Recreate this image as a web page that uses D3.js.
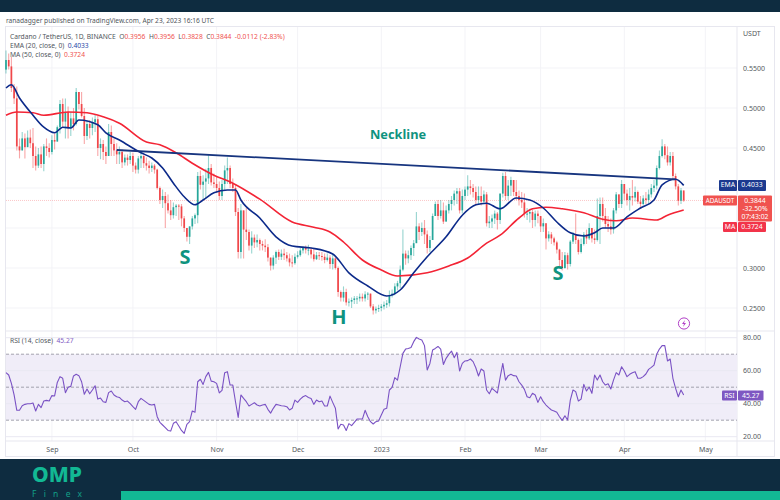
<!DOCTYPE html>
<html><head><meta charset="utf-8">
<script src="https://cdnjs.cloudflare.com/ajax/libs/d3/7.8.5/d3.min.js"></script>
<style>html,body{margin:0;padding:0;background:#fff}svg{display:block}text{font-family:"Noto Sans",sans-serif}</style>
</head><body><svg id="c" width="780" height="500"></svg>
<script>
const closes=[
.560,.552,.525,.512,.452,.447,.462,.451,.463,.456,
.440,.428,.442,.430,.452,.450,.445,.460,.458,.476,
.505,.483,.495,.475,.487,.480,.520,.505,.490,.465,
.480,.475,.482,.486,.450,.455,.445,.440,.470,.455,
.447,.442,.445,.432,.438,.435,.440,.428,.423,.437,
.440,.431,.428,.425,.428,.423,.400,.385,.390,.381,
.372,.366,.376,.378,.377,.362,.350,.339,.352,.362,
.366,.415,.404,.408,.412,.425,.407,.405,.400,.390,
.405,.422,.425,.405,.400,.370,.320,.372,.348,.345,
.328,.338,.332,.335,.330,.328,.326,.313,.303,.313,
.320,.314,.318,.316,.312,.307,.306,.314,.316,.322,
.325,.323,.323,.317,.311,.316,.315,.314,.310,.313,
.305,.312,.300,.270,.263,.270,.257,.258,.260,.262,
.262,.264,.262,.267,.268,.252,.247,.249,.250,.252,
.254,.256,.266,.268,.277,.281,.298,.318,.312,.316,
.325,.331,.352,.345,.350,.342,.325,.335,.365,.380,
.365,.372,.358,.372,.380,.385,.393,.396,.372,.390,
.398,.402,.400,.395,.385,.390,.383,.392,.356,.358,
.362,.368,.360,.393,.415,.390,.403,.410,.395,.390,
.385,.382,.368,.368,.370,.360,.368,.365,.352,.356,
.337,.342,.337,.332,.323,.310,.300,.316,.305,.333,
.342,.335,.320,.330,.342,.337,.350,.337,.335,.365,
.380,.365,.355,.352,.348,.372,.392,.380,.405,.393,
.385,.390,.388,.395,.383,.380,.387,.385,.392,.400,
.403,.425,.440,.452,.441,.432,.440,.415,.402,.384,
.397,.3844];
const highs=[
.572,.568,.564,.530,.527,.462,.470,.468,.472,.473,
.475,.452,.450,.452,.455,.462,.456,.466,.468,.478,
.510,.512,.512,.502,.495,.500,.525,.520,.520,.500,
.484,.485,.488,.492,.490,.462,.460,.452,.480,.478,
.462,.456,.452,.448,.442,.442,.445,.444,.432,.440,
.444,.441,.438,.434,.432,.430,.424,.402,.398,.395,
.392,.385,.382,.380,.380,.380,.365,.350,.352,.365,
.368,.420,.422,.416,.424,.441,.430,.418,.415,.408,
.410,.428,.438,.428,.412,.405,.375,.380,.372,.375,
.348,.346,.342,.342,.337,.334,.336,.330,.313,.316,
.322,.323,.323,.324,.320,.318,.316,.318,.321,.325,
.327,.328,.329,.326,.324,.320,.320,.320,.318,.318,
.316,.318,.315,.302,.272,.277,.274,.262,.263,.265,
.265,.268,.268,.271,.270,.268,.255,.252,.254,.255,
.258,.260,.272,.273,.281,.284,.303,.348,.322,.322,
.328,.335,.370,.356,.357,.360,.347,.340,.368,.383,
.385,.385,.382,.378,.385,.390,.397,.400,.400,.398,
.402,.416,.410,.405,.402,.402,.402,.397,.395,.365,
.367,.372,.370,.393,.419,.420,.410,.414,.410,.410,
.397,.395,.393,.375,.374,.373,.372,.372,.364,.362,
.350,.346,.345,.339,.334,.324,.320,.320,.319,.335,
.345,.368,.337,.337,.345,.348,.356,.345,.348,.387,
.388,.388,.375,.365,.362,.375,.395,.392,.410,.405,
.398,.400,.410,.402,.397,.390,.391,.395,.398,.405,
.410,.428,.447,.461,.455,.452,.445,.445,.418,.405,
.400,.3956];
const lows=[
.543,.548,.520,.505,.447,.437,.447,.437,.452,.450,
.425,.422,.425,.425,.421,.440,.438,.442,.448,.458,
.468,.476,.462,.462,.465,.472,.478,.498,.488,.455,
.460,.462,.466,.470,.440,.436,.435,.430,.440,.440,
.440,.430,.430,.425,.428,.428,.430,.420,.418,.418,
.425,.425,.422,.418,.420,.418,.398,.380,.375,.350,
.368,.360,.362,.365,.360,.352,.345,.333,.330,.348,
.355,.356,.398,.385,.387,.405,.403,.400,.394,.385,
.385,.397,.405,.400,.395,.365,.312,.312,.312,.335,
.322,.318,.325,.326,.322,.322,.320,.308,.297,.298,
.305,.310,.310,.310,.308,.302,.301,.304,.312,.314,
.318,.318,.316,.312,.308,.310,.310,.309,.306,.308,
.299,.298,.298,.264,.258,.258,.253,.252,.250,.255,
.255,.258,.258,.258,.260,.250,.242,.243,.245,.246,
.248,.250,.252,.263,.266,.272,.275,.296,.304,.306,
.310,.315,.332,.335,.340,.330,.318,.320,.335,.365,
.360,.362,.355,.358,.368,.372,.378,.380,.368,.368,
.385,.390,.392,.388,.378,.380,.378,.380,.352,.350,
.350,.355,.348,.355,.388,.385,.385,.390,.390,.385,
.378,.375,.363,.360,.357,.350,.352,.356,.345,.345,
.323,.333,.330,.328,.318,.302,.297,.299,.298,.302,
.330,.330,.317,.318,.328,.330,.335,.332,.330,.333,
.330,.358,.350,.345,.342,.343,.368,.375,.375,.385,
.378,.372,.378,.383,.380,.375,.378,.380,.380,.388,
.395,.398,.423,.438,.436,.428,.428,.410,.398,.378,
.380,.3828];
const rsiValues=[
58.8,57.4,52.3,45.3,36,36,38.8,39.6,40,40,
40.4,35.6,39.6,37.6,41.6,42,41.6,44.9,44.7,52.9,
56.4,55.4,46.7,50,50.5,56.8,57.8,57,53.3,45.7,
48.9,46,48.3,50.9,42.8,43.4,41.2,40.8,46.7,47.7,
45.3,44.2,43.8,42.2,41.2,41.6,40,38.2,36.6,41.2,
43.2,42,40.8,39.6,39.2,39.6,32.1,28.7,27.1,25.5,
23.8,23.4,28.1,29.1,26.5,23.8,22,27.5,29.1,35.6,
34.8,53.3,54.8,51.7,56.4,59,53.7,53.3,52.3,46.5,
48.1,58.8,59.4,51.3,51.3,41.2,31.7,45.3,43.2,41.2,
38.6,39.6,40.6,39.2,38.6,39.2,39.6,36.6,34.3,37.2,
39.6,39.2,38.8,38.6,38.2,36.2,37.2,42.2,40.8,42.8,
44.2,44.9,43.8,43.2,39.6,42.2,41.2,41.6,38.6,38.6,
44.6,40.8,37.2,24.7,27.5,27.1,23.8,27.9,26.7,28.7,
30.7,30.7,30.7,36,32.1,29.1,27.7,29.1,29.5,33.2,
36.6,37.2,48.3,49.9,55.8,54.3,62.4,70.5,73.1,73.5,
74.1,77.6,80.2,79.2,78.6,75.2,60.4,64.4,72.5,73.5,
74.7,73.1,63.8,67.5,69.9,71.9,67.9,71.1,59.8,64.4,
65.9,66.1,67.1,65.5,61.8,56.8,61,59.8,48.3,46,
49.3,47.9,46.5,55.8,64.4,54.3,57,57.8,57,56.8,
53.3,51.3,48.7,44.2,43.6,46.3,45.3,40.8,44.2,41.2,
39.2,37.6,36.2,35.6,34.8,32.1,29.9,32.7,30.1,42.2,
48.3,47.3,41.6,42.8,51.7,47.7,50.1,46.3,57.4,54.3,
57.4,53.3,51.3,52.1,48.9,54.3,58.8,57.4,62.4,59.8,
56.4,57.8,58.8,59.4,55.4,55.4,56.4,58,60.8,62,
63.4,69.9,73.1,75.2,75.2,65.9,67.1,55.4,49.3,44.2,
48.3,45.27];
const emaDays=[0,2,5,10,14,18,21,24,27,34,37,42,50,54,58,62,66,70,73,77,82,85,87,94,100,106,113,121,127,134,141,146,151,156,163,169,174,178,183,189,194,199,204,209,214,218,221,225,230,235,240,243,248,251];
const emaValues=[.525,.529,.5125,.491,.476,.469,.476,.475,.485,.479,.469,.46,.444,.4375,.425,.406,.389,.379,.385,.394,.3975,.3975,.385,.3625,.339,.3275,.325,.3175,.294,.2775,.265,.2725,.294,.314,.339,.366,.379,.381,.374,.3875,.385,.375,.3575,.344,.34,.344,.35,.35,.364,.375,.385,.404,.411,.4033];
const maDays=[0,4,10,14,23,30,36,42,52,57,63,69,77,84,94,106,114,120,125,132,139,145,156,164,171,178,183,190,195,200,206,214,221,226,232,241,245,251];
const maValues=[.491,.495,.494,.491,.495,.494,.489,.481,.4575,.454,.444,.431,.416,.406,.386,.3575,.351,.345,.3325,.31,.2975,.29,.294,.3025,.3125,.331,.341,.3625,.374,.376,.374,.369,.361,.359,.3625,.36,.366,.3724];
const necklineDays=[41,248];
const necklineValues=[.4475,.4109];
const priceTicks=[.55,.5,.45,.3,.25];
const priceGrid=[.55,.5,.45,.4,.35,.3,.25];
const rsiTicks=[80,60,40,20];
const rsiLevels=[70,50,30];
const timeTicks=["2022-09-01","2022-10-01","2022-11-01","2022-12-01","2023-01-01","2023-02-01","2023-03-01","2023-04-01","2023-05-01"];
const timeLabels=["Sep","Oct","Nov","Dec","2023","Feb","Mar","Apr","May"];
const startDay="2022-08-15";
const lastClose=.3844, lastEma=.4033;

const L=6,R=737;
const start=new Date(startDay+"T00:00:00Z");
const dayDate=d=>d3.utcDay.offset(start,d);
const x=d3.scaleUtc().domain([start,new Date(+start+270.74*864e5)]).range([L,R]);
const y=d3.scaleLinear().domain([.55,.25]).range([68,308]);
const yR=d3.scaleLinear().domain([80,20]).range([337.7,436.7]);
const svg=d3.select("#c");
const UP="#26a69a",DOWN="#f0474a",GRID="#f3f3f7",LINE="#e7e7ef",TXT="#555a60";

// bands
svg.append("rect").attr("width",780).attr("height",12).attr("fill","#0e2c40");
svg.append("rect").attr("y",459).attr("width",780).attr("height",41).attr("fill","#0e2c40");
svg.append("rect").attr("x",121).attr("y",491).attr("width",659).attr("height",9).attr("fill","#12b894");
// frame
svg.append("rect").attr("x",5.5).attr("y",26.5).attr("width",769).attr("height",430).attr("fill","#fff").attr("stroke",LINE);

svg.append("text").attr("x",6).attr("y",22.5).attr("font-size",6.6).attr("fill","#50565c").text("ranadagger published on TradingView.com, Apr 23, 2023 16:16 UTC");

// grid
const dates=timeTicks.map(t=>new Date(t+"T00:00:00Z"));
svg.append("g").selectAll("line").data(dates).join("line").attr("x1",d=>x(d)).attr("x2",d=>x(d)).attr("y1",27).attr("y2",441).attr("stroke",GRID);
svg.append("g").selectAll("line").data(priceGrid).join("line").attr("x1",L).attr("x2",R).attr("y1",d=>y(d)).attr("y2",d=>y(d)).attr("stroke",GRID);

// separators
[[L,331,R+37,331],[L,441,R+37,441],[R,27,R,456]].forEach(a=>svg.append("line").attr("x1",a[0]).attr("y1",a[1]).attr("x2",a[2]).attr("y2",a[3]).attr("stroke",LINE));

// candles
const candles=closes.map((c,i)=>({i,c,o:i?closes[i-1]:c-.012,h:highs[i],l:lows[i]}));
const cg=svg.append("g");
cg.selectAll("line").data(candles).join("line")
 .attr("x1",d=>x(dayDate(d.i))).attr("x2",d=>x(dayDate(d.i)))
 .attr("y1",d=>y(d.h)).attr("y2",d=>y(d.l))
 .attr("stroke",d=>d.c>=d.o?UP:DOWN).attr("stroke-opacity",.48).attr("stroke-width",1.1);
cg.selectAll("rect").data(candles).join("rect")
 .attr("x",d=>x(dayDate(d.i))-.85).attr("width",1.7)
 .attr("y",d=>y(Math.max(d.o,d.c))).attr("height",d=>Math.max(1,Math.abs(y(d.o)-y(d.c))))
 .attr("fill",d=>d.c>=d.o?UP:DOWN);

// price line
svg.append("line").attr("x1",L).attr("x2",R).attr("y1",y(lastClose)).attr("y2",y(lastClose)).attr("stroke",DOWN).attr("stroke-opacity",.3).attr("stroke-dasharray","1 1");

// overlays
const overlay=(days,vals,col,w)=>svg.append("path").datum(days.map((d,i)=>[d,vals[i]]))
 .attr("fill","none").attr("stroke",col).attr("stroke-width",w).attr("stroke-linejoin","round")
 .attr("d",d3.line().x(d=>x(dayDate(d[0]))).y(d=>y(d[1])).curve(d3.curveMonotoneX));
overlay(maDays,maValues,"#f32435",1.6);
overlay(emaDays,emaValues,"#0c2a8a",1.6);
overlay(necklineDays,necklineValues,"#17357f",1.8);

// pattern labels
const ann=(t,px,py,s)=>svg.append("text").attr("x",px).attr("y",py).attr("text-anchor","middle").attr("font-size",s).attr("font-weight",700).attr("fill","#0f937f").text(t);
ann("Neckline",398,139,12.8);ann("S",185,264,20);ann("H",339,324,20);ann("S",558,280,20);

// alert icon
const ic=svg.append("g").attr("transform","translate(684,323.5)");
ic.append("circle").attr("r",5.6).attr("fill","#fff").attr("stroke","#b13fc7").attr("stroke-width",1);
ic.append("path").attr("d","M1,-3.5L-2,0.6H0L-1,3.5L2,-0.6H0Z").attr("fill","#b13fc7");

// legend
const leg=(px,py,parts)=>{const t=svg.append("text").attr("x",px).attr("y",py).attr("font-size",6.7).attr("xml:space","preserve").style("white-space","pre");
 parts.forEach(p=>t.append("tspan").attr("fill",p[1]).text(p[0]));};
const RD="#ef5350",GY="#50565c";
leg(10,38.5,[["Cardano / TetherUS, 1D, BINANCE  ",GY],["O",GY],["0.3956  ",RD],["H",GY],["0.3956  ",RD],["L",GY],["0.3828  ",RD],["C",GY],["0.3844  -0.0112 (-2.83%)",RD]]);
leg(10,47.7,[["EMA (20, close, 0)  ",GY],["0.4033","#2a4aa8"]]);
leg(10,57.2,[["MA (50, close, 0)  ",GY],["0.3724",RD]]);
leg(10,342.5,[["RSI (14, close)  ",GY],["45.27","#7e57c2"]]);

// RSI pane
svg.append("rect").attr("x",L).attr("width",R-L).attr("y",yR(70)).attr("height",yR(30)-yR(70)).attr("fill","#f0edf8");
svg.append("g").selectAll("line").data(rsiTicks).join("line").attr("x1",L).attr("x2",R).attr("y1",d=>yR(d)).attr("y2",d=>yR(d)).attr("stroke","#e9e8f2");
svg.append("g").selectAll("line").data(rsiLevels).join("line").attr("x1",L).attr("x2",R).attr("y1",d=>yR(d)).attr("y2",d=>yR(d)).attr("stroke","#8f8f9c").attr("stroke-width",.8).attr("stroke-dasharray","3 2");
svg.append("path").datum(rsiValues).attr("fill","none").attr("stroke","#7a52c4").attr("stroke-width",1.1).attr("stroke-linejoin","round")
 .attr("d",d3.line().x((d,i)=>x(dayDate(i))).y(d=>yR(d)));

// axes
const style=g=>{g.select(".domain").remove();g.selectAll(".tick line").remove();g.selectAll("text").attr("font-family",'"Noto Sans",sans-serif').attr("font-size",7).attr("fill",TXT);};
svg.append("g").attr("transform",`translate(${R},0)`).call(d3.axisRight(y).tickValues(priceTicks).tickFormat(d3.format(".4f")).tickSize(0).tickPadding(6)).call(style);
svg.append("g").attr("transform",`translate(${R},0)`).call(d3.axisRight(yR).tickValues(rsiTicks).tickFormat(d3.format(".2f")).tickSize(0).tickPadding(6)).call(style);
svg.append("g").attr("transform","translate(0,441)").call(d3.axisBottom(x).tickValues(dates).tickFormat((d,i)=>timeLabels[i]).tickSize(0).tickPadding(6)).call(style);
svg.append("text").attr("x",743).attr("y",36).attr("font-size",7).attr("fill",TXT).text("USDT");

// price tags
const tag=(x0,y0,w,h,col,lines,fs)=>{svg.append("rect").attr("x",x0).attr("y",y0).attr("width",w).attr("height",h).attr("rx",1).attr("fill",col);
 lines.forEach((t,i)=>svg.append("text").attr("x",x0+w/2).attr("y",y0+7+i*8.3).attr("text-anchor","middle").attr("font-size",fs||6.8).attr("fill","#fff").text(t));};
const fmt=d3.format(".4f");
tag(719,180,18,11,"#1c3a8f",["EMA"]);tag(738,180,28,11,"#1c3a8f",[fmt(lastEma)]);
tag(703,195.5,34,10,"#f0524f",["ADAUSDT"],6.3);tag(738,195.5,34,26,"#f0524f",[fmt(lastClose),"-32.50%","07:43:02"]);
tag(723,222,14,10,"#f2344a",["MA"]);tag(738,222,28,10,"#f2344a",["0.3724"]);
tag(722,390.5,15,10,"#7e57c2",["RSI"]);tag(738,390.5,25.5,10,"#7e57c2",["45.27"]);

// logo
svg.append("text").attr("x",57).attr("y",481.5).attr("text-anchor","middle").attr("font-size",21).attr("font-weight",800).attr("fill","#12b894").attr("font-family","Inter,sans-serif").attr("textLength",50).attr("lengthAdjust","spacingAndGlyphs").text("OMP");
svg.append("text").attr("x",32).attr("y",497).attr("font-size",8.5).attr("fill","#12a088").attr("textLength",50).text("Finex");
</script></body></html>
